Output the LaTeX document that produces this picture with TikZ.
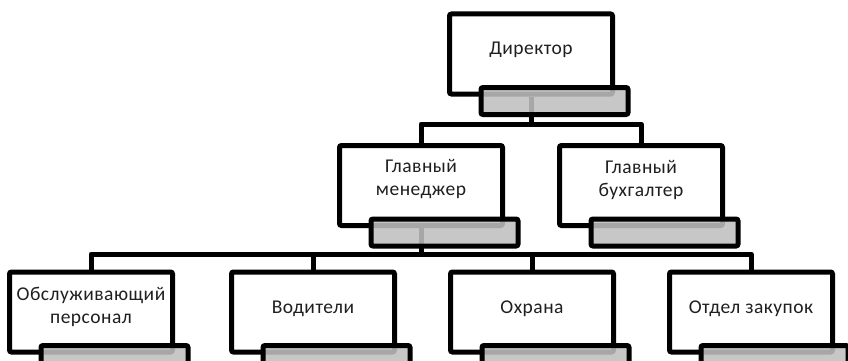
\documentclass[tikz,border=0pt]{standalone}
\usepackage{fontspec}
\setmainfont{Carlito}[LetterSpace=2.5]
\usetikzlibrary{calc}
\tikzset{
  orgbox/.style={draw=black, line width=5pt, fill=white, rounded corners=2pt,
    minimum width=163pt, minimum height=80pt, inner sep=0pt},
  orgbar/.style={draw=black, line width=5pt, fill=black!25, fill opacity=0.875,
    rounded corners=2pt, minimum width=147pt, minimum height=27pt, inner sep=0pt},
  orgtext/.style={align=center, font=\fontsize{19.5}{23}\selectfont, text=black!88, inner sep=0pt},
  conn/.style={draw=black, line width=5pt, line join=round}
}
\begin{document}
\begin{tikzpicture}[x=1pt, y=-1pt]
\useasboundingbox (0,0) rectangle (848,361);
\clip (0,0) rectangle (848,361);
% box positions
\coordinate (pdir) at (531,54);
\coordinate (pmgr) at (421,185.5);
\coordinate (pbuh) at (641,185.5);
\coordinate (pc1) at (91,312);
\coordinate (pc2) at (313,312);
\coordinate (pc3) at (532,312);
\coordinate (pc4) at (751,312);
\coordinate (b1) at (531,124);
\coordinate (b2) at (421,254);
% invisible anchors for connectors
\node[orgbox, draw=none, fill=none] (dir) at (pdir) {};
\node[orgbox, draw=none, fill=none] (mgr) at (pmgr) {};
\node[orgbox, draw=none, fill=none] (buh) at (pbuh) {};
\node[orgbox, draw=none, fill=none] (c1) at (pc1) {};
\node[orgbox, draw=none, fill=none] (c2) at (pc2) {};
\node[orgbox, draw=none, fill=none] (c3) at (pc3) {};
\node[orgbox, draw=none, fill=none] (c4) at (pc4) {};
% connectors
\draw[conn] (dir.south) -- (b1);
\draw[conn] (mgr.north) |- (b1) -| (buh.north);
\draw[conn] (mgr.south) -- (b2);
\draw[conn] (c1.north) |- (b2) -| (c4.north);
\draw[conn] (c2.north) -- (c2.north |- b2);
\draw[conn] (c3.north) -- (c3.north |- b2);
% boxes
\foreach \n in {dir,mgr,buh,c1,c2,c3,c4}{
  \node[orgbox] (\n box) at (p\n) {};
  \node[orgbar] (\n bar) at ($(\n box.south west)+(107.5,4.5)$) {};
}
% texts
\node[orgtext] (tdir) at ($(dir.center)+(0,-4)$) {Директор};
\node[orgtext] (tmgr) at ($(mgr.center)+(0,-6)$) {Главный\\менеджер};
\node[orgtext] (tbuh) at ($(buh.center)+(0,-6)$) {Главный\\бухгалтер};
\node[orgtext] (tc1) at ($(c1.center)+(0,-5)$) {Обслуживающий\\персонал};
\node[orgtext] (tc2) at ($(c2.center)+(0,-3)$) {Водители};
\node[orgtext] (tc3) at ($(c3.center)+(0,-3)$) {Охрана};
\node[orgtext] (tc4) at ($(c4.center)+(0,-3)$) {Отдел закупок};
\end{tikzpicture}
\end{document}
